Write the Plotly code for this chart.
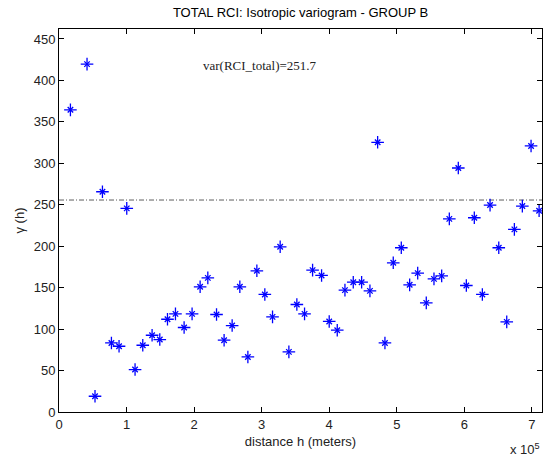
import plotly.graph_objects as go

# Experimental variogram of total RCI (group B)
lag_distance_m = [16900, 41500, 53300, 64300, 77600, 88900, 100300, 112600, 124000,
                  137800, 149200, 160600, 172400, 185200, 197000, 208900, 220300,
                  233200, 244400, 256300, 267700, 279600, 292900, 304700, 316100,
                  327400, 340300, 352100, 363500, 375400, 388700, 400000, 411900,
                  423300, 435600, 448000, 460300, 471700, 482500, 494800, 506700,
                  519100, 531000, 543700, 555100, 566500, 577800, 591100, 603000,
                  614800, 626700, 638100, 651000, 662800, 674100, 685900, 698800,
                  710700]
gamma_h = [364.5, 419.6, 19.0, 265.7, 83.3, 79.3, 245.6, 51.2, 80.5,
           92.6, 87.4, 111.9, 118.4, 101.9, 118.4, 151.0, 161.8,
           117.6, 86.6, 104.3, 151.0, 66.4, 170.3, 141.8, 114.7,
           199.3, 72.5, 129.7, 118.4, 171.1, 164.7, 109.2, 98.7,
           147.0, 156.6, 156.6, 146.1, 325.3, 83.3, 180.0, 198.1,
           153.4, 167.5, 131.6, 160.6, 164.2, 233.0, 294.3, 152.6,
           234.3, 141.8, 249.6, 198.1, 108.7, 220.3, 248.4, 320.9,
           242.7]

sill_level = 255.7
variance_label = "var(RCI_total)=251.7"

x_tick_vals = [0, 100000, 200000, 300000, 400000, 500000, 600000, 700000]
x_tick_text = ["0", "1", "2", "3", "4", "5", "6", "7"]
y_tick_vals = [0, 50, 100, 150, 200, 250, 300, 350, 400, 450]

x_range = [0, 715000]
y_range = [0, 462]

font_main = "Liberation Sans, Arial, sans-serif"
blue = "#0000ff"

fig = go.Figure()

# sill reference (dash-dot)
fig.add_trace(go.Scatter(
    x=x_range, y=[sill_level, sill_level], mode="lines",
    line=dict(color="#333333", width=0.8, dash="5px,2px,1px,2px"),
    hoverinfo="skip", showlegend=False,
))

# variogram points: '*' marker built from a plus and a smaller x
fig.add_trace(go.Scatter(
    x=lag_distance_m, y=gamma_h, mode="markers",
    marker=dict(symbol="cross-thin-open", size=9, color=blue,
                line=dict(color=blue, width=1.3)),
    showlegend=False,
))
fig.add_trace(go.Scatter(
    x=lag_distance_m, y=gamma_h, mode="markers",
    marker=dict(symbol="x-thin-open", size=5.5, color=blue,
                line=dict(color=blue, width=1.3)),
    hoverinfo="skip", showlegend=False,
))

axis_common = dict(
    showline=True, linecolor="black", linewidth=1, mirror="ticks",
    ticks="inside", ticklen=5, tickcolor="black", tickwidth=1,
    showgrid=False, zeroline=False,
    tickfont=dict(family=font_main, size=13, color="#222222"),
)

fig.update_layout(
    width=544, height=461,
    margin=dict(l=59, r=2, t=29, b=49),
    paper_bgcolor="white", plot_bgcolor="white",
    title=dict(text="TOTAL RCI: Isotropic variogram - GROUP B",
               x=0.5, xref="paper", xanchor="center",
               y=1 - 12 / 461, yref="container", yanchor="middle",
               font=dict(family=font_main, size=13, color="black")),
    xaxis=dict(range=x_range, tickvals=x_tick_vals, ticktext=x_tick_text,
               title=dict(text="distance h (meters)", standoff=6,
                          font=dict(family=font_main, size=13, color="#222222")),
               **axis_common),
    yaxis=dict(range=y_range, tickvals=y_tick_vals,
               title=dict(text="γ (h)", standoff=6,
                          font=dict(family=font_main, size=13, color="#222222")),
               **axis_common),
    annotations=[
        dict(text=variance_label, x=0.295, y=0.905, xref="paper", yref="paper",
             xanchor="left", yanchor="middle", showarrow=False,
             font=dict(family="Liberation Serif, Times New Roman, serif",
                       size=13, color="#222222")),
        dict(text="x 10<sup>5</sup>", x=1.0, y=-0.097, xref="paper", yref="paper",
             xanchor="right", yanchor="middle", showarrow=False,
             font=dict(family=font_main, size=13, color="#222222")),
    ],
)

fig.write_html("out.html")
